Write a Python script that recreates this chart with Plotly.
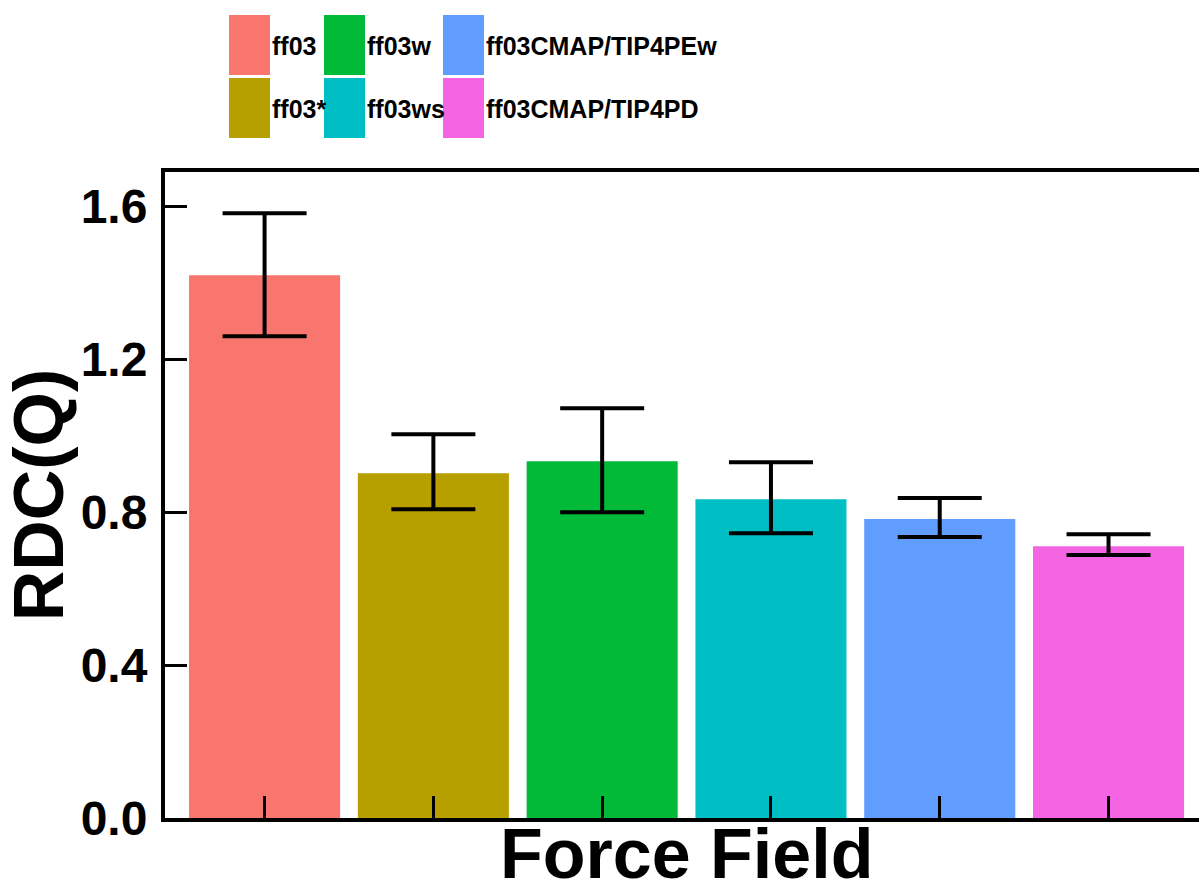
import plotly.graph_objects as go

categories = ["ff03", "ff03*", "ff03w", "ff03ws", "ff03CMAP/TIP4PEw", "ff03CMAP/TIP4PD"]
rdc_values = [1.42, 0.902, 0.933, 0.834, 0.782, 0.711]
err_plus = [0.162, 0.102, 0.139, 0.097, 0.055, 0.031]
err_minus = [0.160, 0.094, 0.133, 0.089, 0.047, 0.023]
colors = ["#F8766D", "#B79F00", "#00BA38", "#00BFC4", "#619CFF", "#F564E3"]
y_ticks = [0.0, 0.4, 0.8, 1.2, 1.6]
y_tick_labels = ["0.0", "0.4", "0.8", "1.2", "1.6"]
x_title = "Force Field"
y_title = "RDC(Q)"

W, H = 1199, 894
L, R, T, B = 165, 0, 172, 76
plot_w = W - L - R
plot_h = H - T - B

BOLD = dict(family="Liberation Sans, Arial, sans-serif", color="black", weight="bold")

fig = go.Figure()
fig.add_trace(go.Bar(
    x=categories,
    y=rdc_values,
    marker=dict(color=colors, line=dict(width=0)),
    error_y=dict(type="data", symmetric=False, array=err_plus, arrayminus=err_minus,
                 color="black", thickness=4, width=42),
    showlegend=False,
    hoverinfo="skip",
))

def px2x(px):
    return (px - L) / plot_w
def px2y(py):
    return (H - B - py) / plot_h

# manual legend (3 columns x 2 rows, column-major order)
col_x = [229, 324, 443]
row_y = [(15, 75), (78, 138)]
sw_w = 41
for i, (name, c) in enumerate(zip(categories, colors)):
    col, row = i // 2, i % 2
    x0 = col_x[col]
    y0, y1 = row_y[row]
    fig.add_shape(type="rect", xref="paper", yref="paper",
                  x0=px2x(x0), x1=px2x(x0 + sw_w), y0=px2y(y1), y1=px2y(y0),
                  fillcolor=c, line=dict(width=0), layer="above")
    fig.add_annotation(xref="paper", yref="paper", x=px2x(x0 + sw_w), y=px2y((y0 + y1) / 2 + 1),
                       text=name, showarrow=False, xanchor="left", yanchor="middle",
                       font=dict(size=25, **BOLD))

# x-axis title
fig.add_annotation(xref="paper", yref="paper", x=px2x(686), y=px2y(854),
                   text=x_title, showarrow=False, xanchor="center", yanchor="middle",
                   font=dict(size=70, **BOLD))

fig.update_layout(
    width=W, height=H,
    margin=dict(l=L, r=R, t=T, b=B, pad=0),
    paper_bgcolor="white", plot_bgcolor="white",
    bargap=0.105,
    xaxis=dict(
        range=[-0.59, 5.536],
        categoryorder="array", categoryarray=categories,
        showticklabels=False,
        ticks="inside", ticklen=22, tickwidth=3, tickcolor="black",
        showline=True, linewidth=4, linecolor="black", mirror=True,
        showgrid=False, zeroline=False,
    ),
    yaxis=dict(
        range=[0, 1.69],
        tickvals=y_ticks, ticktext=y_tick_labels,
        ticks="inside", ticklen=22, tickwidth=3, tickcolor="black",
        showline=True, linewidth=4, linecolor="black", mirror=False,
        showgrid=False, zeroline=False,
        tickfont=dict(size=48, **BOLD),
        ticklabelstandoff=4,
        title=dict(text=y_title, font=dict(size=70, **BOLD), standoff=0),
    ),
)

fig.write_html("out.html", config={"displayModeBar": False},
               post_script="document.body.style.margin='0';document.body.style.overflow='hidden';")
